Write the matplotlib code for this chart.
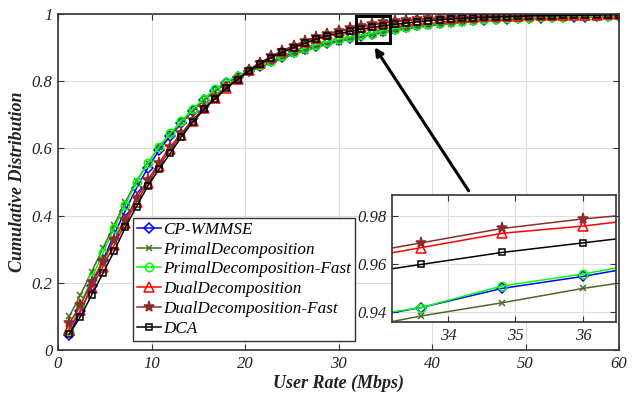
import matplotlib
matplotlib.use("Agg")
import matplotlib.pyplot as plt
from matplotlib.patches import Rectangle

plt.rcParams['font.family'] = ['Liberation Serif', 'DejaVu Serif']
plt.rcParams['mathtext.fontset'] = 'stix'

# x positions: user rate samples (Mbps)
rates = [1.2 * k for k in range(1, 51)]

cp_wmmse = [0.045, 0.115, 0.190, 0.268, 0.343, 0.415, 0.482, 0.542, 0.594, 0.637,
            0.675, 0.711, 0.743, 0.771, 0.795, 0.813, 0.830, 0.846, 0.859, 0.873,
            0.886, 0.896, 0.906, 0.915, 0.923, 0.930, 0.936, 0.942, 0.950, 0.955,
            0.961, 0.966, 0.969, 0.973, 0.976, 0.979, 0.981, 0.983, 0.984, 0.986,
            0.987, 0.988, 0.989, 0.990, 0.991, 0.992, 0.992, 0.993, 0.994, 0.994]
primal = [0.100, 0.164, 0.233, 0.303, 0.372, 0.440, 0.503, 0.556, 0.603, 0.642,
          0.678, 0.712, 0.743, 0.770, 0.793, 0.811, 0.827, 0.842, 0.855, 0.868,
          0.880, 0.891, 0.901, 0.910, 0.918, 0.925, 0.932, 0.9385, 0.944, 0.950,
          0.955, 0.960, 0.964, 0.968, 0.971, 0.974, 0.977, 0.979, 0.981, 0.983,
          0.984, 0.986, 0.987, 0.988, 0.989, 0.990, 0.991, 0.991, 0.992, 0.993]
primal_fast = [0.058, 0.135, 0.213, 0.288, 0.362, 0.432, 0.500, 0.556, 0.605, 0.645,
               0.682, 0.717, 0.748, 0.776, 0.799, 0.816, 0.832, 0.848, 0.861, 0.875,
               0.888, 0.898, 0.908, 0.917, 0.925, 0.931, 0.937, 0.942, 0.951, 0.956,
               0.962, 0.967, 0.970, 0.974, 0.977, 0.980, 0.982, 0.984, 0.985, 0.987,
               0.988, 0.989, 0.990, 0.991, 0.992, 0.993, 0.993, 0.994, 0.995, 0.995]
dual = [0.062, 0.118, 0.185, 0.248, 0.312, 0.378, 0.440, 0.498, 0.548, 0.597,
        0.640, 0.682, 0.719, 0.751, 0.781, 0.807, 0.832, 0.854, 0.873, 0.890,
        0.905, 0.918, 0.930, 0.940, 0.948, 0.955, 0.961, 0.967, 0.973, 0.976,
        0.980, 0.983, 0.985, 0.987, 0.989, 0.991, 0.992, 0.993, 0.994, 0.995,
        0.995, 0.996, 0.996, 0.997, 0.997, 0.998, 0.998, 0.998, 0.999, 0.999]
dual_fast = [0.079, 0.134, 0.203, 0.265, 0.327, 0.387, 0.452, 0.506, 0.556, 0.605,
             0.645, 0.685, 0.720, 0.752, 0.782, 0.808, 0.833, 0.855, 0.874, 0.891,
             0.906, 0.920, 0.932, 0.942, 0.950, 0.957, 0.963, 0.969, 0.975, 0.979,
             0.982, 0.985, 0.987, 0.989, 0.991, 0.992, 0.993, 0.994, 0.995, 0.996,
             0.996, 0.997, 0.997, 0.998, 0.998, 0.998, 0.999, 0.999, 0.999, 0.999]
dca = [0.048, 0.099, 0.164, 0.228, 0.294, 0.365, 0.427, 0.488, 0.538, 0.585,
       0.635, 0.678, 0.716, 0.748, 0.779, 0.805, 0.830, 0.851, 0.870, 0.886,
       0.900, 0.913, 0.925, 0.935, 0.942, 0.948, 0.955, 0.960, 0.965, 0.969,
       0.973, 0.977, 0.980, 0.983, 0.985, 0.987, 0.989, 0.990, 0.991, 0.992,
       0.993, 0.994, 0.995, 0.995, 0.996, 0.996, 0.997, 0.997, 0.998, 0.998]

labels = ['CP-WMMSE', 'PrimalDecomposition', 'PrimalDecomposition-Fast',
          'DualDecomposition', 'DualDecomposition-Fast', 'DCA']
series = [cp_wmmse, primal, primal_fast, dual, dual_fast, dca]
colors = ['#0000ff', '#4a6b22', '#00ff00', '#ff0000', '#8c2d2d', '#000000']
markers = ['D', 'x', 'o', '^', '*', 's']
msizes = [5, 4.5, 6, 6.5, 8, 5]
fills = ['none', 'full', 'none', 'none', 'full', 'none']

xticks = [0, 10, 20, 30, 40, 50, 60]
yticks = [0, 0.2, 0.4, 0.6, 0.8, 1]
inset_xticks = [34, 35, 36]
inset_yticks = [0.94, 0.96, 0.98]

fig = plt.figure(figsize=(6.39, 3.97), dpi=100)
ax = fig.add_axes([0.0908, 0.1184, 0.878, 0.8463])

def draw(a):
    for y, lab, c, m, ms, f in zip(series, labels, colors, markers, msizes, fills):
        kw = dict(color=c, marker=m, markersize=ms, lw=1.1, label=lab,
                  markeredgewidth=1.1)
        if f == 'none':
            kw['markerfacecolor'] = 'none'
        else:
            kw['markerfacecolor'] = c
        a.plot(rates, y, **kw)

def style(a, fs):
    a.grid(True, color='#dddddd', lw=0.8)
    a.set_axisbelow(True)
    for s in a.spines.values():
        s.set_color('#333333')
        s.set_linewidth(1.2)
    a.tick_params(direction='in', top=True, right=True, length=4, width=0.8,
                  color='#333333', labelsize=fs, pad=4)
    for t in a.get_xticklabels() + a.get_yticklabels():
        t.set_fontstyle('italic')
        t.set_color('#222222')

draw(ax)
ax.set_xlim(0, 60)
ax.set_ylim(0, 1)
ax.set_xticks(xticks)
ax.set_yticks(yticks)
ax.set_yticklabels(['0', '0.2', '0.4', '0.6', '0.8', '1'])
style(ax, 12)
ax.set_xlabel('User Rate (Mbps)', fontsize=13, fontweight='bold',
              fontstyle='italic', color='#222222', labelpad=2)
ax.set_ylabel('Cumulative Distribution', fontsize=13, fontweight='bold',
              fontstyle='italic', color='#222222', labelpad=4)

leg = ax.legend(loc='lower left', bbox_to_anchor=(0.134, 0.027),
                prop={'style': 'italic', 'size': 12.3}, frameon=True, fancybox=False,
                borderpad=0.25, labelspacing=0.22, handlelength=1.35,
                handletextpad=0.15, borderaxespad=0.0)
leg.get_frame().set_edgecolor('#333333')
leg.get_frame().set_linewidth(1.0)
leg.get_frame().set_alpha(1)

# zoom rectangle and arrow
ax.add_patch(Rectangle((31.85, 0.913), 3.65, 0.082, fill=False, ec='black',
                       lw=2.2, zorder=10))
ax.annotate('', xy=(33.7, 0.908), xytext=(44.07, 0.467), xycoords='data',
            arrowprops=dict(arrowstyle='-|>', color='black', lw=2.2,
                            mutation_scale=12), zorder=11)

ins = fig.add_axes([0.6135, 0.189, 0.3505, 0.320])
draw(ins)
ins.set_xlim(33.17, 36.49)
ins.set_ylim(0.936, 0.989)
ins.set_xticks(inset_xticks)
ins.set_yticks(inset_yticks)
style(ins, 12)
ins.set_zorder(20)

fig.savefig('out.png', dpi=100)
